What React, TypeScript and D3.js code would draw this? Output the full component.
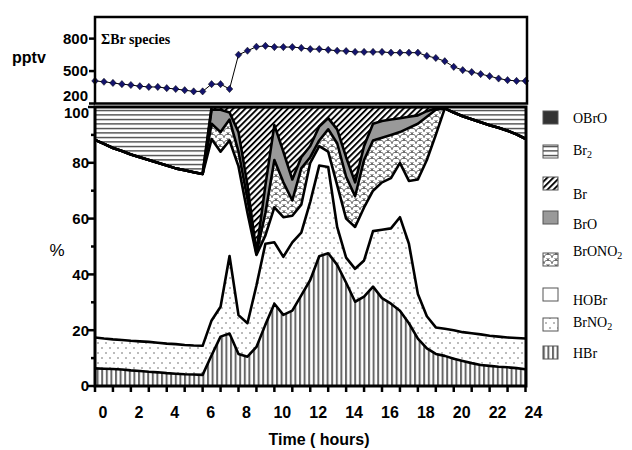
import React from 'react';
import * as d3 from 'd3';

const hours = [0,0.5,1,1.5,2,2.5,3,3.5,4,4.5,5,5.5,6,6.5,7,7.5,8,8.5,9,9.5,10,10.5,11,11.5,12,12.5,13,13.5,14,14.5,15,15.5,16,16.5,17,17.5,18,18.5,19,19.5,20,20.5,21,21.5,22,22.5,23,23.5,24];

// Sum of Br species (pptv)
const totalBr = [409,401,390,379,371,360,353,353,342,334,323,312,312,379,379,334,651,688,725,733,722,722,722,714,703,703,696,688,685,677,677,677,677,670,670,670,670,640,621,591,539,509,491,472,453,431,416,409,409];

// Percent of each species
const hbr = [6.3,6.2,6.1,5.9,5.6,5.4,5.1,4.9,4.6,4.4,4.2,4.1,4.0,11.0,17.7,18.8,11.5,10.5,14,22,29.5,25.5,27,32.5,38,46.5,47.6,43.4,37,30.2,32,35.6,31.5,29.5,27,22.5,17,13.5,11.5,10.8,9.8,9.0,8.2,7.5,7.2,6.9,6.7,6.4,6.0];
const brno2 = [11.1,10.8,10.6,10.6,10.6,10.6,10.7,10.6,10.6,10.6,10.5,10.4,10.4,12.5,10.7,27.8,13.9,12.0,22,29,22,20.8,24.5,22.5,28,32.5,30.9,13.6,9,11.8,13,19.9,24.5,27,33.5,28.5,16,11.5,9.5,9.7,10.2,10.3,10.7,11,10.8,10.8,10.7,10.8,11.0];
const hobr = [70.8,69.8,68.6,67.7,66.8,66.0,65.2,64.5,63.8,63.0,62.6,62.1,61.6,65,55.6,41.4,53.3,39.5,11,3,12.5,14.2,9.5,10,14,7,5.5,15,14,15,19,14.5,17,18,19.5,22.5,41,56,69,79,78,77.4,76.7,76,75.5,74.9,74.1,73,71.6];
const brono2 = [0,0,0,0,0,0,0,0,0,0,0,0,0,5.5,7,7.5,5.3,5,0.5,8,17,12.5,5.5,13,2,2,8,15,15,11,17,18,16,15.5,11,19,20,15.5,9,0,0,0,0,0,0,0,0,0,0];
const bro = [0,0,0,0,0,0,0,0,0,0,0,0,0,5,8,2.5,7,5,0.5,10,12.5,11,7.5,4,4,5,4,5,7,5,5,6,6,5.5,5,4,3,2,0.5,0,0,0,0,0,0,0,0,0,0];
const br = [0,0,0,0,0,0,0,0,0,0,0,0,0,1,1,2,9,28,52,28,6.5,16,26,18,14,7,4,8,18,27,14,6,5,4.5,4,3.5,3,1.5,0.5,0,0,0,0,0,0,0,0,0,0];
const br2 = [11.8,13.2,14.7,15.8,17.0,18.0,19.0,20.0,21.0,22.0,22.7,23.4,24.0,0,0,0,0,0,0,0,0,0,0,0,0,0,0,0,0,0,0,0,0,0,0,0,0,0,0,0.5,2.0,3.3,4.4,5.5,6.5,7.4,8.5,9.8,11.4];
const obro = [0,0,0,0,0,0,0,0,0,0,0,0,0,0,0,0,0,0,0,0,0,0,0,0,0,0,0,0,0,0,0,0,0,0,0,0,0,0,0,0,0,0,0,0,0,0,0,0,0];

const species = ['HBr','BrNO2','HOBr','BrONO2','BrO','Br','Br2','OBrO'];
const seriesValues = [hbr, brno2, hobr, brono2, bro, br, br2, obro];
const xTicks = [0,1,2,3,4,5,6,7,8,9,10,11,12,13,14,15,16,17,18,19,20,21,22,23,24];
const xLabels = [0,2,4,6,8,10,12,14,16,18,20,22,24];
const yMajor = [0,20,40,60,80,100];
const yMinor = [10,30,50,70,90];
const topTicks = [200,500,800];

const fills: Record<string,string> = {
  HBr: 'url(#pHBr)', BrNO2: 'url(#pBrNO2)', HOBr: '#ffffff', BrONO2: 'url(#pBrONO2)',
  BrO: '#999999', Br: 'url(#pBr)', Br2: 'url(#pBr2)', OBrO: '#333333',
};

const legendOrder = ['OBrO','Br2','Br','BrO','BrONO2','HOBr','BrNO2','HBr'];
const legendBoxY = [111,145,177,211,253,288,318,346];
const legendTextY = [123,155,199,229,256,305,327,358];

const SANS = 'Liberation Sans, Arial, sans-serif';
const SERIF = 'Liberation Serif, Times New Roman, serif';

function Label({ name, x, y }: { name: string; x: number; y: number }) {
  const m = name.match(/^(.*?)(\d)$/);
  if (m) {
    return (
      <text x={x} y={y} fontFamily={SERIF} fontSize={14}>
        {m[1]}<tspan fontSize={10} dy={3}>{m[2]}</tspan>
      </text>
    );
  }
  return <text x={x} y={y} fontFamily={SERIF} fontSize={14}>{name}</text>;
}

export default function App() {
  const x = d3.scaleLinear().domain([0, 24]).range([95, 525.5]);
  const y = d3.scaleLinear().domain([0, 100]).range([386, 107]);
  const yTop = d3.scaleLinear().domain([200, 1000]).range([103.5, 17]);

  const table = hours.map((h, i) => {
    const row: any = { h };
    species.forEach((s, k) => { row[s] = seriesValues[k][i]; });
    return row;
  });
  const stacked = d3.stack<any>().keys(species)(table);
  const area = d3.area<any>().x(d => x(d.data.h)).y0(d => y(d[0])).y1(d => y(d[1]));
  const line = d3.line<any>().x(d => x(d.data.h)).y(d => y(d[1]));

  const topLine = d3.line<number>().x((_, i) => x(hours[i])).y(d => yTop(d));

  return (
    <svg width={632} height={450} style={{ position: 'absolute', left: 0, top: 0, background: '#fff' }}>
      <defs>
        <pattern id="pHBr" patternUnits="userSpaceOnUse" width={4.6} height={10}>
          <rect x={0} y={0} width={2} height={10} fill="#666" />
        </pattern>
        <pattern id="pBrNO2" patternUnits="userSpaceOnUse" width={8} height={10}>
          <circle cx={2} cy={3} r={0.75} fill="#555" />
          <circle cx={6} cy={8} r={0.75} fill="#555" />
        </pattern>
        <pattern id="pBrONO2" patternUnits="userSpaceOnUse" width={8} height={6}>
          <path d="M0,6 A4,4 0 0 1 8,6 M-4,3 A4,4 0 0 1 4,3 M4,3 A4,4 0 0 1 12,3" fill="none" stroke="#444" strokeWidth={0.7} />
        </pattern>
        <pattern id="pBr" patternUnits="userSpaceOnUse" width={4.3} height={10} patternTransform="rotate(45)">
          <rect x={0} y={0} width={1.9} height={10} fill="#000" />
        </pattern>
        <pattern id="pBr2" patternUnits="userSpaceOnUse" width={10} height={4.5}>
          <rect x={0} y={2} width={10} height={1} fill="#000" />
        </pattern>
        <clipPath id="plotClip">
          <rect x={95} y={107} width={431} height={279} />
        </clipPath>
      </defs>

      {/* Top panel */}
      <g>
        <path d={topLine(totalBr) || ''} fill="none" stroke="#000" strokeWidth={1} />
        {totalBr.map((v, i) => {
          const cx = x(hours[i]), cy = yTop(v);
          return <path key={i} d={`M${cx},${cy - 3.6}L${cx + 3.3},${cy}L${cx},${cy + 3.6}L${cx - 3.3},${cy}Z`} fill="#14146e" stroke="#000" strokeWidth={0.5} />;
        })}
        <rect x={95} y={17} width={432} height={86.5} fill="none" stroke="#000" strokeWidth={2.5} />
        {topTicks.map(t => (
          <g key={t}>
            <line x1={89} x2={95} y1={yTop(t)} y2={yTop(t)} stroke="#000" strokeWidth={2.5} />
            <text x={88} y={t === 200 ? yTop(t) - 2.5 : yTop(t) + 5.3} textAnchor="end" fontFamily={SANS} fontWeight="bold" fontSize={15}>{t}</text>
          </g>
        ))}
        <text x={101} y={44} fontFamily={SERIF} fontWeight="bold" fontSize={14}>ΣBr species</text>
        <text x={12} y={63} fontFamily={SANS} fontWeight="bold" fontSize={16}>pptv</text>
      </g>

      {/* Main stacked areas */}
      <g clipPath="url(#plotClip)">
        {stacked.map((s, k) => (
          <path key={species[k]} d={area(s) || ''} fill={fills[species[k]]} stroke="none" />
        ))}
        {stacked.slice(0, 6).map((s, k) => (
          <path key={'l' + k} d={line(s) || ''} fill="none" stroke="#000" strokeWidth={2.6} strokeLinejoin="round" />
        ))}
      </g>

      {/* Axes / frame */}
      <rect x={95} y={107} width={431} height={279} fill="none" stroke="#000" strokeWidth={3} />
      {yMajor.map(t => (
        <g key={t}>
          <line x1={88} x2={95} y1={y(t)} y2={y(t)} stroke="#000" strokeWidth={2.5} />
          <text x={89} y={t === 100 ? y(t) + 11 : y(t) + 5.3} textAnchor="end" fontFamily={SANS} fontWeight="bold" fontSize={15}>{t}</text>
        </g>
      ))}
      {yMinor.map(t => (
        <line key={t} x1={91} x2={95} y1={y(t)} y2={y(t)} stroke="#000" strokeWidth={2.5} />
      ))}
      {xTicks.map(t => (
        <line key={t} x1={x(t)} x2={x(t)} y1={386} y2={392} stroke="#000" strokeWidth={2.5} />
      ))}
      {xLabels.map(t => (
        <text key={t} x={x(t) + 8} y={418} textAnchor="middle" fontFamily={SANS} fontWeight="bold" fontSize={16}>{t}</text>
      ))}
      <text x={319} y={445} textAnchor="middle" fontFamily={SANS} fontWeight="bold" fontSize={16}>Time ( hours)</text>
      <text x={57} y={256} textAnchor="middle" fontFamily={SANS} fontSize={17}>%</text>

      {/* Legend */}
      {legendOrder.map((name, i) => (
        <g key={name}>
          <rect x={543} y={legendBoxY[i]} width={15} height={13} fill={fills[name]} stroke="#555" strokeWidth={1} />
          <Label name={name} x={573} y={legendTextY[i]} />
        </g>
      ))}
    </svg>
  );
}
